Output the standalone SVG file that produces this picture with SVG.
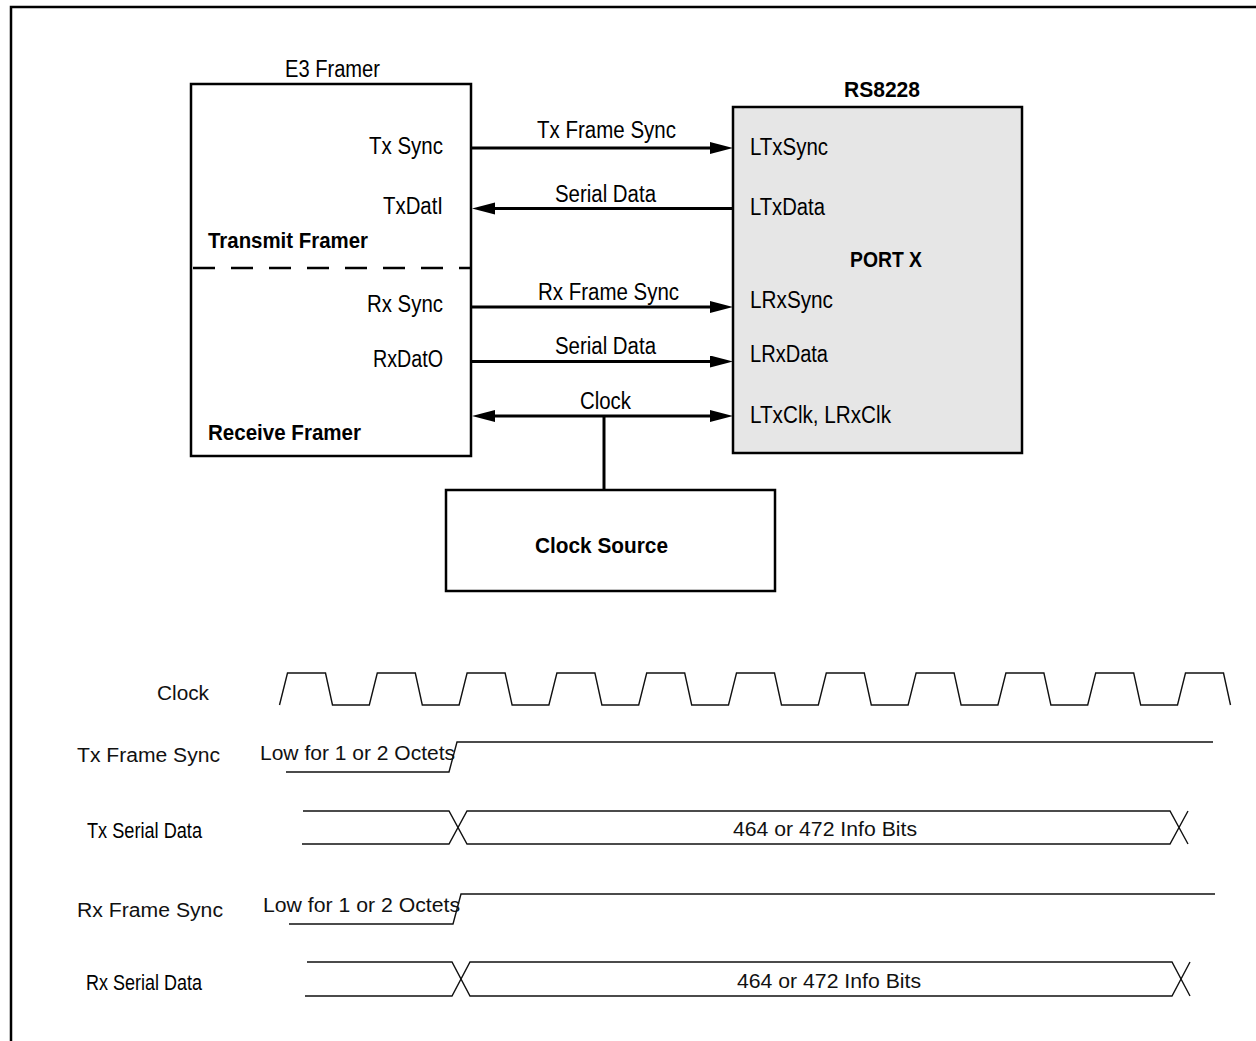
<svg xmlns="http://www.w3.org/2000/svg" width="1256" height="1041" viewBox="0 0 1256 1041">
<defs>
<style>
.box{fill:#fff;stroke:#000;stroke-width:2.5}
.gray{fill:#e6e6e6;stroke:#000;stroke-width:2.5}
.cn{font-family:"Liberation Sans Narrow","Liberation Sans",Arial,sans-serif;font-size:23.5px;fill:#000}
.cb{font-family:"Liberation Sans Narrow","Liberation Sans",Arial,sans-serif;font-size:22.5px;font-weight:bold;fill:#000}
.ar{font-family:"Liberation Sans",Arial,sans-serif;font-size:20px;fill:#111}
.wire{stroke:#000;stroke-width:3;fill:none}
.wave{stroke:#111;stroke-width:1.4;fill:none}
</style>
<marker id="ah" markerUnits="userSpaceOnUse" markerWidth="23" markerHeight="13" refX="13" refY="6" orient="auto">
<path d="M0,0 L23,6 L0,12 z" fill="#000"/>
</marker>
</defs>
<rect width="1256" height="1041" fill="#fff"/>
<path d="M11,1041 V7 H1256" fill="none" stroke="#000" stroke-width="2.5"/>

<g id="e3-framer">
<rect class="box" x="191" y="84" width="280" height="372"/>
<text class="cn" x="285" y="77" textLength="95" lengthAdjust="spacingAndGlyphs">E3 Framer</text>
<text class="cn" x="369" y="154" textLength="74" lengthAdjust="spacingAndGlyphs">Tx Sync</text>
<text class="cn" x="383" y="214" textLength="60" lengthAdjust="spacingAndGlyphs">TxDatI</text>
<text class="cb" x="208" y="248" textLength="160" lengthAdjust="spacingAndGlyphs">Transmit Framer</text>
<line x1="193" y1="268" x2="470" y2="268" stroke="#000" stroke-width="2.5" stroke-dasharray="22 16"/>
<text class="cn" x="367" y="312" textLength="76" lengthAdjust="spacingAndGlyphs">Rx Sync</text>
<text class="cn" x="373" y="367" textLength="70" lengthAdjust="spacingAndGlyphs">RxDatO</text>
<text class="cb" x="208" y="440" textLength="153" lengthAdjust="spacingAndGlyphs">Receive Framer</text>
</g>

<g id="rs8228">
<rect class="gray" x="733" y="107" width="289" height="346"/>
<text class="cb" x="844" y="97" textLength="76" lengthAdjust="spacingAndGlyphs">RS8228</text>
<text class="cn" x="750" y="155" textLength="78" lengthAdjust="spacingAndGlyphs">LTxSync</text>
<text class="cn" x="750" y="215" textLength="75" lengthAdjust="spacingAndGlyphs">LTxData</text>
<text class="cb" x="850" y="267" textLength="72" lengthAdjust="spacingAndGlyphs">PORT X</text>
<text class="cn" x="750" y="308" textLength="83" lengthAdjust="spacingAndGlyphs">LRxSync</text>
<text class="cn" x="750" y="362" textLength="78" lengthAdjust="spacingAndGlyphs">LRxData</text>
<text class="cn" x="750" y="423" textLength="141" lengthAdjust="spacingAndGlyphs">LTxClk, LRxClk</text>
</g>

<g id="clock-source">
<rect class="box" x="446" y="490" width="329" height="101"/>
<text class="cb" x="535" y="553" textLength="133" lengthAdjust="spacingAndGlyphs">Clock Source</text>
</g>

<g id="connectors">
<line class="wire" x1="471" y1="148" x2="723" y2="148" marker-end="url(#ah)"/>
<text class="cn" x="537" y="138" textLength="139" lengthAdjust="spacingAndGlyphs">Tx Frame Sync</text>
<line class="wire" x1="734" y1="208.5" x2="482" y2="208.5" marker-end="url(#ah)"/>
<text class="cn" x="555" y="202" textLength="101" lengthAdjust="spacingAndGlyphs">Serial Data</text>
<line class="wire" x1="471" y1="307" x2="723" y2="307" marker-end="url(#ah)"/>
<text class="cn" x="538" y="300" textLength="141" lengthAdjust="spacingAndGlyphs">Rx Frame Sync</text>
<line class="wire" x1="471" y1="361.5" x2="723" y2="361.5" marker-end="url(#ah)"/>
<text class="cn" x="555" y="354" textLength="101" lengthAdjust="spacingAndGlyphs">Serial Data</text>
<line class="wire" x1="604" y1="416" x2="723" y2="416" marker-end="url(#ah)"/>
<line class="wire" x1="604" y1="416" x2="482" y2="416" marker-end="url(#ah)"/>
<text class="cn" x="580" y="409" textLength="51" lengthAdjust="spacingAndGlyphs">Clock</text>
<line class="wire" x1="604" y1="416" x2="604" y2="490"/>
</g>

<g id="timing">
<text class="ar" x="157" y="700" textLength="52" lengthAdjust="spacingAndGlyphs">Clock</text>
<text class="ar" x="77" y="762" textLength="143" lengthAdjust="spacingAndGlyphs">Tx Frame Sync</text>
<text class="cn" x="87" y="838" style="font-size:22px" textLength="115" lengthAdjust="spacingAndGlyphs">Tx Serial Data</text>
<text class="ar" x="77" y="917" textLength="146" lengthAdjust="spacingAndGlyphs">Rx Frame Sync</text>
<text class="cn" x="86" y="990" style="font-size:22px" textLength="116" lengthAdjust="spacingAndGlyphs">Rx Serial Data</text>

<path class="wave" d="M279.5,705 L287.5,673 L325.5,673 L332.5,705 L369.3,705 L377.3,673 L415.3,673 L422.3,705 L459.1,705 L467.1,673 L505.1,673 L512.1,705 L548.9,705 L556.9,673 L594.9,673 L601.9,705 L638.7,705 L646.7,673 L684.7,673 L691.7,705 L728.5,705 L736.5,673 L774.5,673 L781.5,705 L818.3,705 L826.3,673 L864.3,673 L871.3,705 L908.1,705 L916.1,673 L954.1,673 L961.1,705 L997.9,705 L1005.9,673 L1043.9,673 L1050.9,705 L1087.7,705 L1095.7,673 L1133.7,673 L1140.7,705 L1177.5,705 L1185.5,673 L1223.5,673 L1230.5,705"/>

<path class="wave" d="M286,772 H449 L457,742 H1213"/>
<text class="ar" x="260" y="760" textLength="195" lengthAdjust="spacingAndGlyphs">Low for 1 or 2 Octets</text>

<path class="wave" d="M303,811 H449 L467,844 H1170 L1188,811"/>
<path class="wave" d="M302,844 H449 L467,811 H1170 L1188,844"/>
<text class="ar" x="733" y="836" textLength="184" lengthAdjust="spacingAndGlyphs">464 or 472 Info Bits</text>

<path class="wave" d="M289,924 H453 L461,894 H1215"/>
<text class="ar" x="263" y="912" textLength="197" lengthAdjust="spacingAndGlyphs">Low for 1 or 2 Octets</text>

<path class="wave" d="M307,962 H452 L470,996 H1172 L1190,962"/>
<path class="wave" d="M305,996 H452 L470,962 H1172 L1190,996"/>
<text class="ar" x="737" y="988" textLength="184" lengthAdjust="spacingAndGlyphs">464 or 472 Info Bits</text>
</g>
</svg>
